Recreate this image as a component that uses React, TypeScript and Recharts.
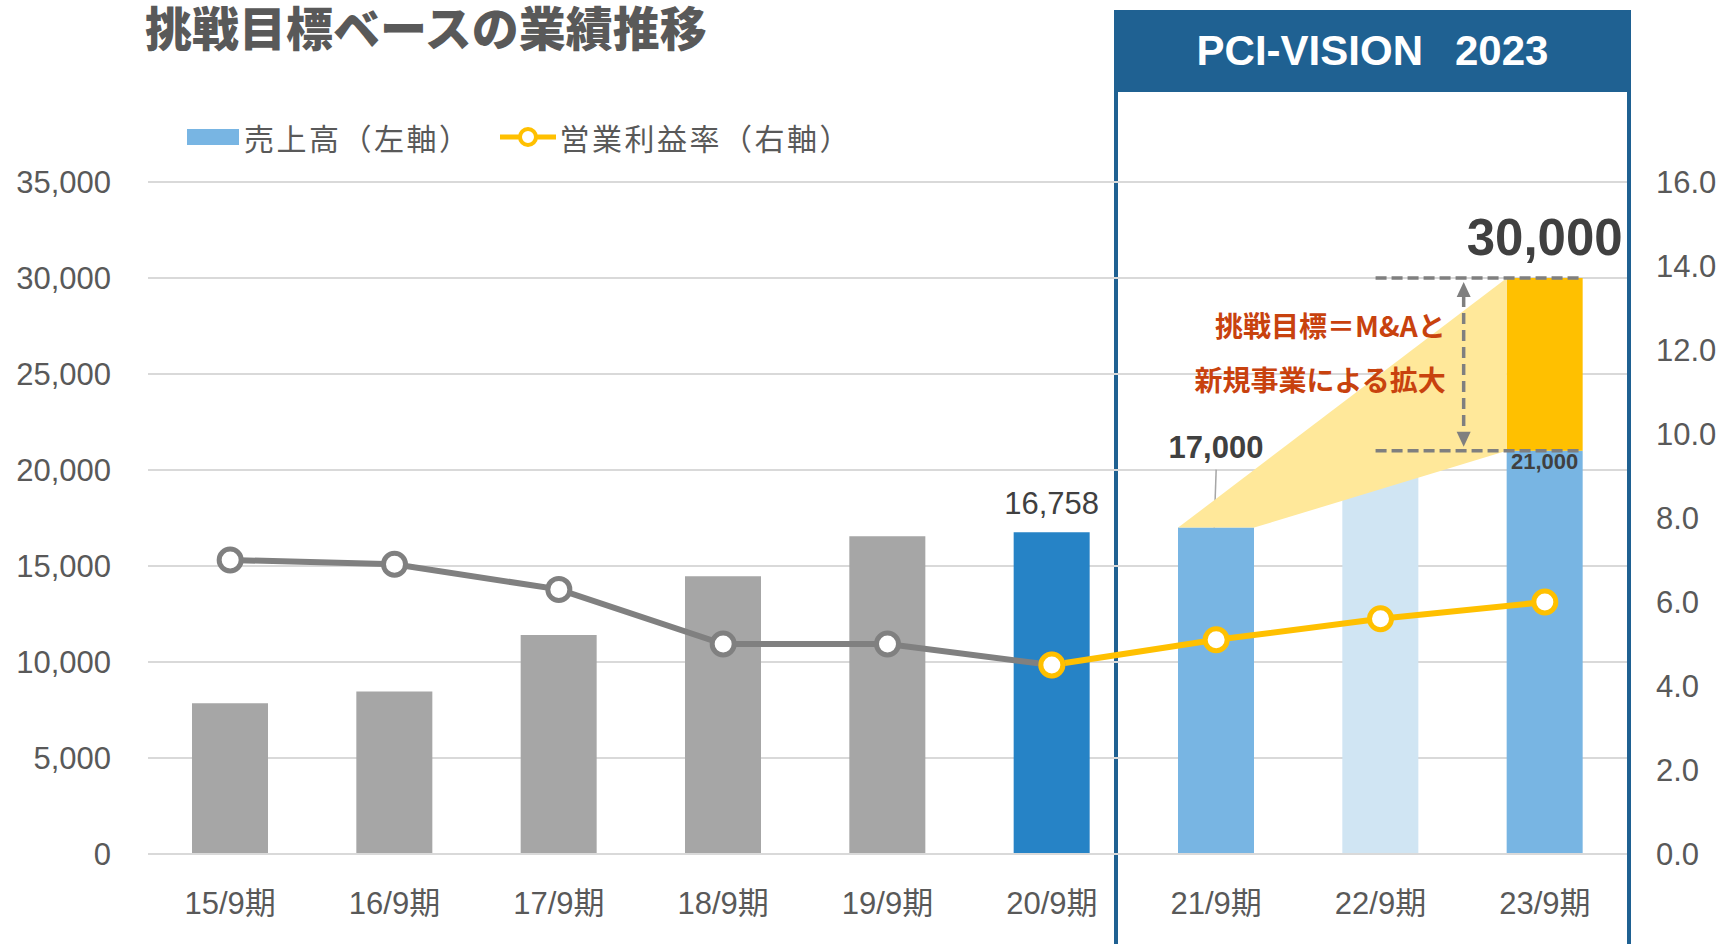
import React from "react";
import {
  ComposedChart,
  Bar,
  Line,
  Cell,
  XAxis,
  YAxis,
  CartesianGrid,
  LabelList,
  ReferenceArea,
} from "recharts";

// 決算期
const periods = ["15/9期", "16/9期", "17/9期", "18/9期", "19/9期", "20/9期", "21/9期", "22/9期", "23/9期"];
// 売上高（左軸）
const sales = [7850, 8470, 11400, 14460, 16550, 16758, 17000, 20000, 21000];
// 挑戦目標の上乗せ分（M&A・新規事業）
const challenge = [null, null, null, null, null, null, null, null, 9000];
// 営業利益率（右軸）実績 / 計画
const marginActual = [7.0, 6.9, 6.3, 5.0, 5.0, 4.5, null, null, null];
const marginPlan = [null, null, null, null, null, 4.5, 5.1, 5.6, 6.0];

const leftTicks = [0, 5000, 10000, 15000, 20000, 25000, 30000, 35000];
const rightTicks = [0, 2, 4, 6, 8, 10, 12, 14, 16];

const barColors = ["#A6A6A6", "#A6A6A6", "#A6A6A6", "#A6A6A6", "#A6A6A6", "#2683C6", "#78B5E3", "#D0E5F3", "#78B5E3"];

const FONT = "'Liberation Sans', 'Noto Sans CJK JP', sans-serif";
const JP_FONT = "'Noto Sans CJK JP', sans-serif";
const BAR_SIZE = 76;
const GRAY_TEXT = "#595959";
const DARK_TEXT = "#404040";
const NAVY = "#1F6192";

const data = periods.map((p, i) => ({
  period: p,
  sales: sales[i],
  challenge: challenge[i],
  actual: marginActual[i],
  plan: marginPlan[i],
}));

const fmt = (v: number) => v.toLocaleString("en-US");

// label styles for the annotated sales bars
const salesLabelStyle: Record<number, { size: number; weight: number; dy: number }> = {
  5: { size: 31, weight: 400, dy: -18 },
  6: { size: 31, weight: 700, dy: -70 },
  8: { size: 22, weight: 700, dy: 18 },
};

function SalesLabel(props: any) {
  const { x, y, width, index, value } = props;
  const st = salesLabelStyle[index];
  if (!st || value == null) return null;
  return (
    <text
      x={x + width / 2}
      y={y + st.dy}
      textAnchor="middle"
      fontFamily={FONT}
      fontSize={st.size}
      fontWeight={st.weight}
      fill={DARK_TEXT}
    >
      {fmt(value)}
    </text>
  );
}

function TargetLabel(props: any) {
  const { x, y, width, value } = props;
  if (value == null || !value || x == null) return null;
  const last = periods.length - 1;
  const total = sales[last] + (challenge[last] || 0);
  return (
    <text x={x + width / 2} y={y - 23} textAnchor="middle" fontFamily={FONT} fontSize={51} fontWeight={700} fill={DARK_TEXT}>
      {fmt(total)}
    </text>
  );
}

// yellow "bridge" from 21/9 bar to the 23/9 target + dashed guides and arrow
function Bridge(props: any) {
  const { x, y, width, height } = props;
  if (x == null || y == null) return null;
  const last = periods.length - 1;
  const target = sales[last] + (challenge[last] || 0);
  const base = sales[last];
  const from = sales[6];
  const band = width / 3;
  const inset = (band - BAR_SIZE) / 2;
  const yTop = y;
  const yFrom = y + height;
  const yBase = y + (height * (target - base)) / (target - from);
  const ax = x + inset;
  const bx = x + band - inset;
  const cx = x + 2 * band + inset;
  const guideStart = x + 1.47 * band;
  const guideEnd = x + 3 * band - inset;
  const arrowX = x + 2 * band + 1;
  const span = yBase - yTop;
  const gray = "#7F7F7F";
  return (
    <g>
      <line x1={x + band / 2} y1={yFrom - 58} x2={x + band / 2 - 2} y2={yFrom} stroke="#A6A6A6" strokeWidth={1.5} />
      <polygon points={`${ax},${yFrom} ${cx},${yTop} ${cx},${yBase} ${bx},${yFrom}`} fill="#FFE89A" />
      <line x1={guideStart} y1={yTop} x2={guideEnd} y2={yTop} stroke={gray} strokeWidth={3.5} strokeDasharray="11 5" />
      <line x1={guideStart} y1={yBase} x2={guideEnd} y2={yBase} stroke={gray} strokeWidth={3.5} strokeDasharray="11 5" />
      <line x1={arrowX} y1={yTop + 18} x2={arrowX} y2={yBase - 18} stroke={gray} strokeWidth={3.5} strokeDasharray="11 6" />
      <polygon points={`${arrowX},${yTop + 4} ${arrowX - 7},${yTop + 19} ${arrowX + 7},${yTop + 19}`} fill={gray} />
      <polygon points={`${arrowX},${yBase - 4} ${arrowX - 7},${yBase - 19} ${arrowX + 7},${yBase - 19}`} fill={gray} />
      <text
        x={arrowX - 18}
        y={yTop + span * 0.274}
        textAnchor="end"
        dominantBaseline="central"
        fontFamily={JP_FONT}
        fontSize={28}
        fontWeight={700}
        fill="#C8420E"
      >
        挑戦目標＝M&amp;Aと
      </text>
      <text
        x={arrowX - 18}
        y={yTop + span * 0.583}
        textAnchor="end"
        dominantBaseline="central"
        fontFamily={JP_FONT}
        fontSize={28}
        fontWeight={700}
        fill="#C8420E"
      >
        新規事業による拡大
      </text>
    </g>
  );
}

export default function App() {
  return (
    <div style={{ position: "absolute", left: 0, top: 0, width: 1720, height: 944, overflow: "hidden", background: "#fff", fontFamily: FONT }}>
      {/* PCI-VISION frame */}
      <div
        style={{
          position: "absolute",
          left: 1114,
          top: 10,
          width: 509,
          height: 960,
          borderLeft: `4px solid ${NAVY}`,
          borderRight: `4px solid ${NAVY}`,
        }}
      >
        <div
          style={{
            height: 82,
            background: NAVY,
            color: "#fff",
            fontFamily: FONT,
            fontWeight: 700,
            fontSize: 42,
            display: "flex",
            alignItems: "center",
            justifyContent: "center",
          }}
        >
          <span>PCI-VISION</span>
          <span style={{ marginLeft: 32 }}>2023</span>
        </div>
      </div>

      {/* title */}
      <div
        style={{
          position: "absolute",
          left: 145,
          top: 1,
          fontFamily: JP_FONT,
          fontWeight: 900,
          fontSize: 47,
          lineHeight: "50px",
          color: GRAY_TEXT,
          whiteSpace: "nowrap",
        }}
      >
        挑戦目標ベースの業績推移
      </div>

      {/* legend */}
      <div
        style={{
          position: "absolute",
          left: 187,
          top: 117,
          height: 40,
          display: "flex",
          alignItems: "center",
          color: GRAY_TEXT,
          fontFamily: JP_FONT,
          fontSize: 30,
          letterSpacing: 2.5,
          whiteSpace: "nowrap",
        }}
      >
        <span style={{ display: "inline-block", width: 52, height: 16, background: "#78B5E3", marginRight: 5 }} />
        <span>売上高（左軸）</span>
        <svg width={56} height={24} style={{ marginLeft: 28, marginRight: 4 }}>
          <line x1={0} y1={12} x2={56} y2={12} stroke="#FFC000" strokeWidth={5} />
          <circle cx={28} cy={12} r={8} fill="#fff" stroke="#FFC000" strokeWidth={4} />
        </svg>
        <span>営業利益率（右軸）</span>
      </div>

      <div style={{ position: "absolute", left: 0, top: 0 }}>
        <ComposedChart width={1720} height={944} data={data} margin={{ top: 182, right: 0, bottom: 0, left: 0 }}>
          <CartesianGrid yAxisId="left" vertical={false} stroke="#D9D9D9" strokeWidth={2} />
          <XAxis
            dataKey="period"
            height={90}
            tickSize={0}
            tickMargin={38}
            axisLine={{ stroke: "#D9D9D9", strokeWidth: 2 }}
            tickLine={false}
            tick={{ fill: GRAY_TEXT, fontSize: 31, fontFamily: FONT }}
            interval={0}
          />
          <YAxis
            yAxisId="left"
            width={148}
            domain={[0, 35000]}
            ticks={leftTicks}
            tickFormatter={fmt}
            tickSize={0}
            tickMargin={37}
            axisLine={false}
            tickLine={false}
            tick={{ fill: GRAY_TEXT, fontSize: 31, fontFamily: FONT }}
          />
          <YAxis
            yAxisId="right"
            orientation="right"
            width={93}
            domain={[0, 16]}
            ticks={rightTicks}
            tickFormatter={(v: number) => v.toFixed(1)}
            tickSize={0}
            tickMargin={29}
            axisLine={false}
            tickLine={false}
            tick={{ fill: GRAY_TEXT, fontSize: 31, fontFamily: FONT }}
          />
          <Bar yAxisId="left" dataKey="sales" stackId="s" barSize={BAR_SIZE} isAnimationActive={false}>
            {data.map((_, i) => (
              <Cell key={`c-${i}`} fill={barColors[i]} />
            ))}
            <LabelList dataKey="sales" content={(p: any) => <SalesLabel {...p} />} />
          </Bar>
          <Bar yAxisId="left" dataKey="challenge" stackId="s" barSize={BAR_SIZE} fill="#FFC000" isAnimationActive={false}>
            <LabelList dataKey="challenge" content={(p: any) => <TargetLabel {...p} />} />
          </Bar>
          <ReferenceArea
            yAxisId="left"
            x1={periods[6]}
            x2={periods[8]}
            y1={sales[6]}
            y2={sales[8] + (challenge[8] || 0)}
            ifOverflow="visible"
            zIndex={350}
            shape={(p: any) => <Bridge {...p} />}
          />
          <Line
            yAxisId="right"
            dataKey="actual"
            stroke="#808080"
            strokeWidth={6}
            dot={{ r: 11, fill: "#fff", stroke: "#808080", strokeWidth: 5 }}
            activeDot={false}
            isAnimationActive={false}
          />
          <Line
            yAxisId="right"
            dataKey="plan"
            stroke="#FFC000"
            strokeWidth={6}
            dot={{ r: 11, fill: "#fff", stroke: "#FFC000", strokeWidth: 5 }}
            activeDot={false}
            isAnimationActive={false}
          />
        </ComposedChart>
      </div>
    </div>
  );
}
